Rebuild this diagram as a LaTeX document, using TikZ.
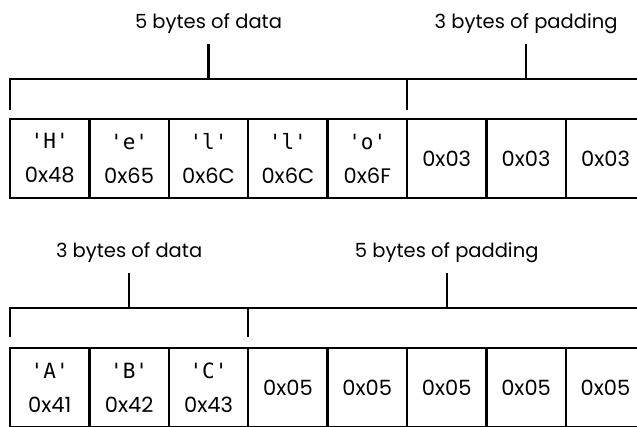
\documentclass[tikz,border=0pt]{standalone}
\usepackage{fontspec}
\setmainfont{Poppins}
\setmonofont{DejaVu Sans Mono}
\usetikzlibrary{positioning,calc}
\newcommand{\chr}[1]{{\ttfamily #1}}

\begin{document}
\begin{tikzpicture}[x=1pt,y=-1pt,node distance=0pt]
    \tikzset{cell/.style={draw,line width=2.4pt,minimum width=79.4pt,minimum height=79pt,inner sep=0pt,
        outer sep=0pt,align=center,font=\fontsize{21}{34}\selectfont},
      brace/.style={line width=2.4pt},
      spanlbl/.style={font=\fontsize{19.5}{23}\selectfont,anchor=base}}
    \useasboundingbox (0,0) rectangle (637,426);
    % upper row: five data bytes, three bytes of padding
    \node[cell] (t1) at (49.7,158.5) {\chr{'H'}\\0x48};
    \foreach \txt [count=\i from 2,remember=\i as \j (initially 1)] in
      {{\chr{'e'}\\0x65},{\chr{'l'}\\0x6C},{\chr{'l'}\\0x6C},{\chr{'o'}\\0x6F},0x03,0x03,0x03}
      \node[cell,right=of t\j] (t\i) {\txt};
    \draw[brace] ([yshift=9pt]t1.north west) |- ([yshift=40pt]t8.north east) -- ([yshift=9pt]t8.north east);
    \draw[brace] ([yshift=40pt]t5.north east) -- ([yshift=9pt]t5.north east);
    \coordinate (tdmid) at ($(t1.north west)!0.5!(t5.north east)+(0,-40)$);
    \coordinate (tpmid) at ($(t5.north east)!0.5!(t8.north east)+(0,-40)$);
    \node[spanlbl] (tdlbl) at ([yshift=51pt]tdmid) {5 bytes of data};
    \node[spanlbl] (tplbl) at ([yshift=51pt]tpmid) {3 bytes of padding};
    \draw[brace] (tdmid) -- ([yshift=-16pt]tdlbl.base);
    \draw[brace] (tpmid) -- ([yshift=-16pt]tplbl.base);
    % lower row: three data bytes, five bytes of padding
    \node[cell] (b1) at (49.7,387.5) {\chr{'A'}\\0x41};
    \foreach \txt [count=\i from 2,remember=\i as \j (initially 1)] in
      {{\chr{'B'}\\0x42},{\chr{'C'}\\0x43},0x05,0x05,0x05,0x05,0x05}
      \node[cell,right=of b\j] (b\i) {\txt};
    \draw[brace] ([yshift=11pt]b1.north west) |- ([yshift=40pt]b8.north east) -- ([yshift=11pt]b8.north east);
    \draw[brace] ([yshift=40pt]b3.north east) -- ([yshift=11pt]b3.north east);
    \coordinate (bdmid) at ($(b1.north west)!0.5!(b3.north east)+(0,-40)$);
    \coordinate (bpmid) at ($(b3.north east)!0.5!(b8.north east)+(0,-40)$);
    \node[spanlbl] (bdlbl) at ([yshift=51pt]bdmid) {3 bytes of data};
    \node[spanlbl] (bplbl) at ([yshift=51pt]bpmid) {5 bytes of padding};
    \draw[brace] (bdmid) -- ([yshift=-16pt]bdlbl.base);
    \draw[brace] (bpmid) -- ([yshift=-16pt]bplbl.base);
\end{tikzpicture}
\end{document}
